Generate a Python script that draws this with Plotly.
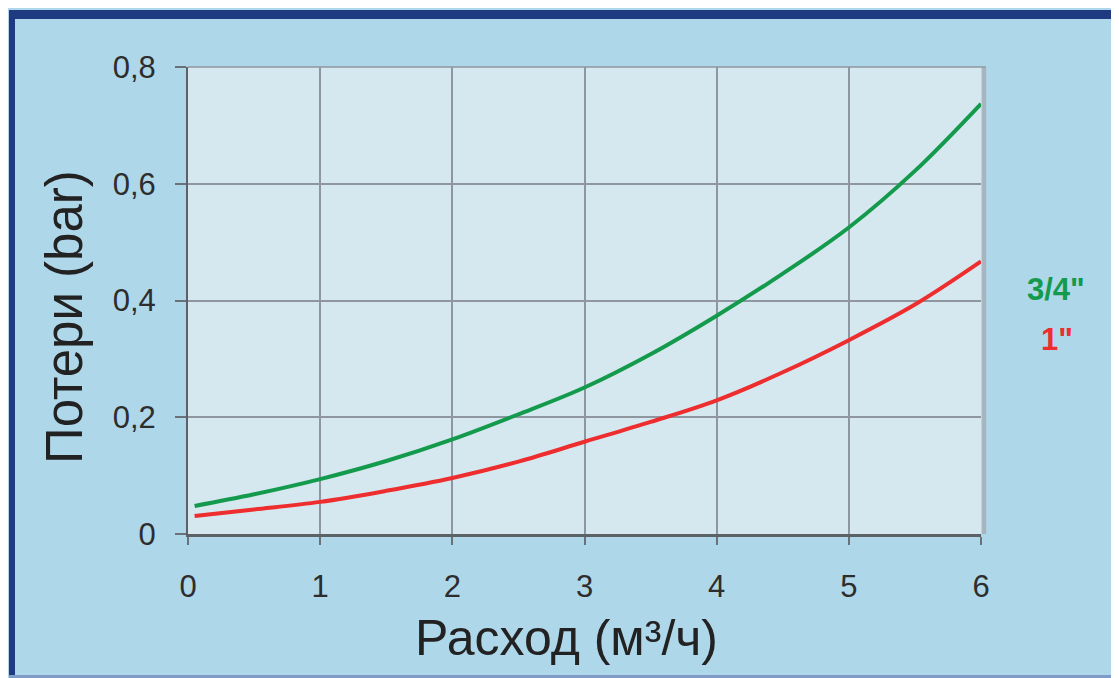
import plotly.graph_objects as go

# ---- data ----
flow = [0.05, 0.5, 1, 1.5, 2, 2.5, 3, 3.5, 4, 4.5, 5, 5.5, 6]
loss_34 = [0.048, 0.068, 0.094, 0.125, 0.162, 0.205, 0.251, 0.308, 0.374, 0.446, 0.525, 0.622, 0.737]
loss_1 = [0.031, 0.042, 0.055, 0.074, 0.096, 0.124, 0.158, 0.192, 0.229, 0.277, 0.332, 0.393, 0.467]
x_ticks = [0, 1, 2, 3, 4, 5, 6]
x_ticktext = ["0", "1", "2", "3", "4", "5", "6"]
y_ticks = [0, 0.2, 0.4, 0.6, 0.8]
y_ticktext = ["0", "0,2", "0,4", "0,6", "0,8"]
series_names = ["3/4\"", "1\""]

GREEN = "#149a4c"
RED = "#ee2d2f"
OFF = 8  # page body margin
W, H = 1119 - OFF, 678 - OFF
# plot area in reference page pixels
L, R, T, B = 188, 981, 67, 534


def px(x):
    return (x - L) / (R - L)


def py(y):
    return (B - y) / (B - T)


fig = go.Figure()
fig.add_trace(go.Scatter(x=flow, y=loss_34, mode="lines", name=series_names[0],
                         line=dict(color=GREEN, width=4, shape="spline")))
fig.add_trace(go.Scatter(x=flow, y=loss_1, mode="lines", name=series_names[1],
                         line=dict(color=RED, width=4, shape="spline")))

NAVY = "#1f3a80"
shapes = [
    # navy frame (top and left)
    dict(type="rect", xref="paper", yref="paper", x0=px(9), x1=px(1130), y0=py(10), y1=py(19),
         fillcolor=NAVY, line_width=0, layer="below"),
    dict(type="rect", xref="paper", yref="paper", x0=px(9), x1=px(15), y0=py(10), y1=py(700),
         fillcolor=NAVY, line_width=0, layer="below"),
    dict(type="rect", xref="paper", yref="paper", x0=px(9), x1=px(1130), y0=py(675), y1=py(700),
         fillcolor="#7f9cc9", line_width=0, layer="below"),
    # plot frame right / top
    dict(type="line", xref="paper", yref="paper", x0=1.004, x1=1.004, y0=0, y1=1,
         line=dict(color="#a9b3bb", width=4)),
    dict(type="line", xref="paper", yref="paper", x0=0, x1=1.006, y0=1, y1=1,
         line=dict(color="#8e979f", width=1.5)),
]

FONT = "Liberation Sans, Arial"
annotations = [
    dict(text="Расход (м³/ч)", xref="paper", yref="paper", x=px(566), y=py(638),
         xanchor="center", yanchor="middle", showarrow=False,
         font=dict(family=FONT, size=50, color="#222222")),
    dict(text="Потери (bar)", xref="paper", yref="paper", x=px(64), y=py(317),
         xanchor="center", yanchor="middle", showarrow=False, textangle=-90,
         font=dict(family=FONT, size=51, color="#222222")),
    dict(text="<b>3/4\"</b>", xref="paper", yref="paper", x=px(1056), y=py(289),
         xanchor="center", yanchor="middle", showarrow=False,
         font=dict(family=FONT, size=31, color=GREEN)),
    dict(text="<b>1\"</b>", xref="paper", yref="paper", x=px(1057), y=py(339),
         xanchor="center", yanchor="middle", showarrow=False,
         font=dict(family=FONT, size=31, color=RED)),
]

fig.update_layout(
    width=W, height=H,
    margin=dict(l=L - OFF, r=W - (R - OFF), t=T - OFF, b=H - (B - OFF), pad=0),
    paper_bgcolor="#afd7ea",
    plot_bgcolor="#d6e8ef",
    showlegend=False,
    shapes=shapes,
    annotations=annotations,
    font=dict(family=FONT, size=31, color="#2d2d2d"),
)
fig.update_xaxes(range=[0, 6], tickvals=x_ticks, ticktext=x_ticktext,
                 showgrid=True, gridcolor="#8e979f", gridwidth=1.5, zeroline=False,
                 showline=True, linecolor="#5c6168", linewidth=2.5,
                 ticks="outside", ticklen=8, tickwidth=1.5, tickcolor="#6b7178",
                 ticklabelstandoff=15, tickfont=dict(family=FONT, size=31, color="#2d2d2d"))
fig.update_yaxes(range=[0, 0.8], tickvals=y_ticks, ticktext=y_ticktext,
                 showgrid=True, gridcolor="#8e979f", gridwidth=1.5, zeroline=False,
                 showline=True, linecolor="#5c6168", linewidth=2,
                 ticks="outside", ticklen=11, tickwidth=1.5, tickcolor="#6b7178",
                 ticklabelstandoff=13, tickfont=dict(family=FONT, size=31, color="#2d2d2d"))

fig.write_html("out.html")
